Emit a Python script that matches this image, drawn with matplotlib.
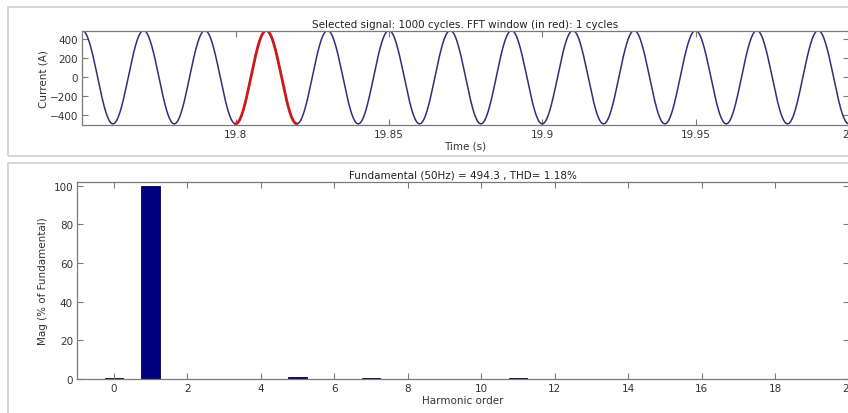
import numpy as np
import matplotlib.pyplot as plt
from matplotlib.patches import Rectangle

# signal parameters (read from the title / plot)
amp = 494.3          # peak current (A)
f0 = 50              # fundamental (Hz)
t_start, t_end = 19.75, 20.0
win_start, win_end = 19.80, 19.82

# harmonic spectrum (% of fundamental), orders 0..19
orders = list(range(0, 20))
mags = [0.3, 100, 0.1, 0.1, 0.1, 1.0, 0.1, 0.4, 0.1, 0.1,
        0.1, 0.3, 0.1, 0.2, 0.1, 0.1, 0.1, 0.1, 0.1, 0.1]

title_top = "Selected signal: 1000 cycles. FFT window (in red): 1 cycles"
title_bot = "Fundamental (50Hz) = 494.3 , THD= 1.18%"

fs = 7.5
axcol = "#7a7a7a"
plt.rcParams['font.family'] = ['DejaVu Sans']

fig = plt.figure(figsize=(8.48, 4.14), dpi=100)
fig.patch.set_facecolor("white")

# panel frames
fig.add_artist(Rectangle((0.010, 0.620), 1.2, 0.360, transform=fig.transFigure,
                         fill=False, ec="#d0d0d0", lw=1.2))
fig.add_artist(Rectangle((0.010, -0.1), 1.2, 0.705, transform=fig.transFigure,
                         fill=False, ec="#d0d0d0", lw=1.2))

def style(ax):
    for s in ax.spines.values():
        s.set_color(axcol)
        s.set_linewidth(0.9)
    ax.tick_params(direction="in", length=4, width=0.8, colors=axcol,
                   labelcolor="#333333", labelsize=fs, top=True, right=True, pad=3)

# top: time signal
ax1 = fig.add_axes([0.097, 0.696, 0.904, 0.227])
t = np.linspace(t_start, t_end, 3000)
i_sig = amp * np.cos(2 * np.pi * f0 * (t - t_start))
ax1.plot(t, i_sig, color="#2e2e7a", lw=1.1)
m = (t >= win_start) & (t <= win_end)
ax1.plot(t[m], i_sig[m], color="#cc1a1a", lw=2.0)
ax1.set_xlim(t_start, t_end)
ax1.set_ylim(-505, 490)
ax1.set_xticks([19.8, 19.85, 19.9, 19.95, 20.0])
ax1.set_xticklabels(["19.8", "19.85", "19.9", "19.95", "20"])
ax1.set_yticks([-400, -200, 0, 200, 400])
ax1.set_title(title_top, fontsize=fs, color="#222222", pad=3)
ax1.set_xlabel("Time (s)", fontsize=fs, color="#333333", labelpad=1)
ax1.set_ylabel("Current (A)", fontsize=fs, color="#333333", labelpad=1)
style(ax1)

# bottom: harmonic spectrum
ax2 = fig.add_axes([0.091, 0.082, 0.910, 0.476])
ax2.bar(orders, mags, width=0.5, color="#000080", edgecolor="#000040", lw=0.6)
ax2.set_xlim(-1, 20)
ax2.set_ylim(0, 102)
ax2.set_xticks(range(0, 21, 2))
ax2.set_yticks(range(0, 101, 20))
ax2.set_title(title_bot, fontsize=fs, color="#222222", pad=3)
ax2.set_xlabel("Harmonic order", fontsize=fs, color="#333333", labelpad=1)
ax2.set_ylabel("Mag (% of Fundamental)", fontsize=fs, color="#333333", labelpad=4)
style(ax2)

fig.savefig("out.png", dpi=100)
